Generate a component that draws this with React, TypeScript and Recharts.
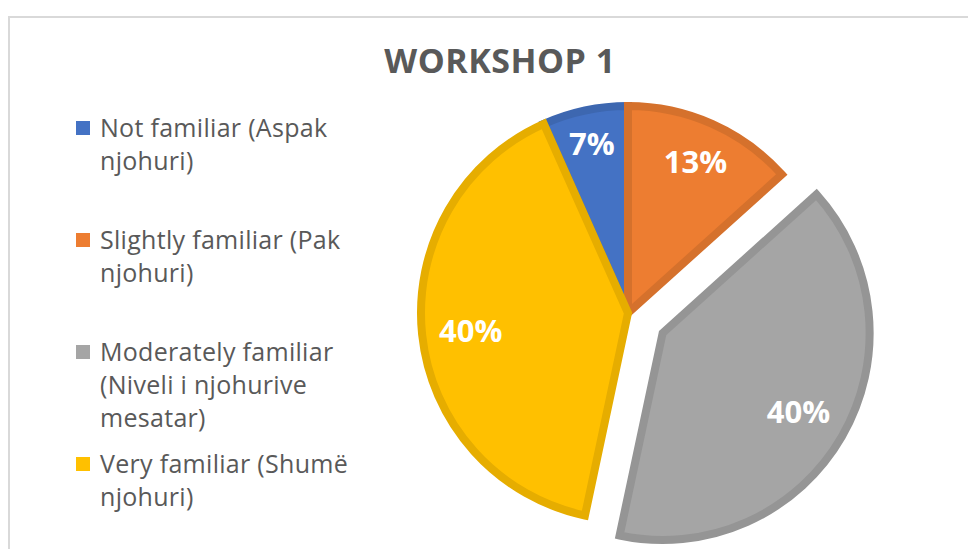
import { PieChart, Pie, Cell, Legend } from 'recharts'

// survey answers, workshop 1 (15 respondents)
const categories = [
  'Not familiar (Aspak njohuri)',
  'Slightly familiar (Pak njohuri)',
  'Moderately familiar (Niveli i njohurive mesatar)',
  'Very familiar (Shumë njohuri)',
]
const responses = [1, 2, 6, 6]
const explodedIndex = 2
const chartTitle = 'WORKSHOP 1'

const FILLS = ['#4472C4', '#ED7D31', '#A5A5A5', '#FFC000']
const BORDERS = ['#3D67B0', '#D5712C', '#959595', '#E6AD00']
const FONT = '"Open Sans", "Noto Sans", sans-serif'

const data = categories.map((name, i) => ({ name, value: responses[i] }))

const W = 968
const H = 541
const CX = 615
const CY = 300
const R = 207
const EXPLODE = 40
const START = 114
const RAD = Math.PI / 180
const LABEL_SIZE = 31

// mid angle of the exploded slice, to push it out from the centre
const total = responses.reduce((a, b) => a + b, 0)
const before = responses.slice(0, explodedIndex).reduce((a, b) => a + b, 0)
const midDeg = START - ((before + responses[explodedIndex] / 2) / total) * 360
const ex = CX + EXPLODE * Math.cos(midDeg * RAD)
const ey = CY - EXPLODE * Math.sin(midDeg * RAD)

const makeLabel = (show: (i: number) => boolean) => (props: any) => {
  const { cx, cy, midAngle, outerRadius, percent, index } = props
  if (!show(index)) return null
  const text = `${Math.round(percent * 100)}%`
  const c = Math.cos(-midAngle * RAD)
  const s = Math.sin(-midAngle * RAD)
  // keep the label box just inside the outer edge
  const halfW = (text.length * 0.7 * LABEL_SIZE) / 2
  const reach = Math.abs(c) * halfW + Math.abs(s) * 14
  const r = outerRadius - reach - 15
  return (
    <text
      x={cx + r * c}
      y={cy + r * s}
      fill="#fff"
      textAnchor="middle"
      dominantBaseline="central"
      style={{ fontFamily: FONT, fontSize: LABEL_SIZE, fontWeight: 700 }}
    >
      {text}
    </text>
  )
}

const renderLegend = () => (
  <div style={{ fontFamily: FONT, fontSize: 25, letterSpacing: 0.3, color: '#595959' }}>
    {categories.map((name, i) => (
      <div key={name} style={{ display: 'flex', alignItems: 'flex-start', height: 112 }}>
        <span
          style={{
            width: 14,
            height: 14,
            background: FILLS[i],
            marginTop: 10,
            marginRight: 10,
            flexShrink: 0,
          }}
        />
        <span style={{ width: 262, lineHeight: '33px' }}>{name}</span>
      </div>
    ))}
  </div>
)

export default function App() {
  return (
    <div style={{ position: 'relative', width: W, height: H, overflow: 'hidden', background: '#fff' }}>
      <div
        style={{
          position: 'absolute',
          left: 0,
          top: 8,
          width: 1200,
          height: 800,
          border: '2px solid #D9D9D9',
          boxSizing: 'border-box',
        }}
      />
      <div
        style={{
          position: 'absolute',
          left: 0,
          width: 984,
          top: 32,
          textAlign: 'center',
          fontFamily: FONT,
          fontSize: 34,
          letterSpacing: 0.5,
          fontWeight: 700,
          color: '#595959',
          lineHeight: '40px',
        }}
      >
        {chartTitle}
      </div>
      <div style={{ position: 'absolute', left: 0, top: 0 }}>
        <PieChart width={W} height={H}>
          <Pie
            data={data}
            dataKey="value"
            cx={CX}
            cy={CY}
            outerRadius={R}
            startAngle={START}
            endAngle={START - 360}
            strokeWidth={8}
            labelLine={false}
            label={makeLabel((i) => i !== explodedIndex)}
            isAnimationActive={false}
          >
            {data.map((entry, index) => (
              <Cell
                key={`cell-${index}`}
                fill={index === explodedIndex ? 'none' : FILLS[index]}
                stroke={index === explodedIndex ? 'none' : BORDERS[index]}
              />
            ))}
          </Pie>
          <Pie
            data={data}
            dataKey="value"
            cx={ex}
            cy={ey}
            outerRadius={R}
            startAngle={START}
            endAngle={START - 360}
            strokeWidth={8}
            labelLine={false}
            label={makeLabel((i) => i === explodedIndex)}
            isAnimationActive={false}
          >
            {data.map((entry, index) => (
              <Cell
                key={`cell-x-${index}`}
                fill={index === explodedIndex ? FILLS[index] : 'none'}
                stroke={index === explodedIndex ? BORDERS[index] : 'none'}
              />
            ))}
          </Pie>
          <Legend
            layout="vertical"
            content={renderLegend}
            wrapperStyle={{ left: 68, top: 103, width: 300, bottom: 'auto', right: 'auto' }}
          />
        </PieChart>
      </div>
    </div>
  )
}
